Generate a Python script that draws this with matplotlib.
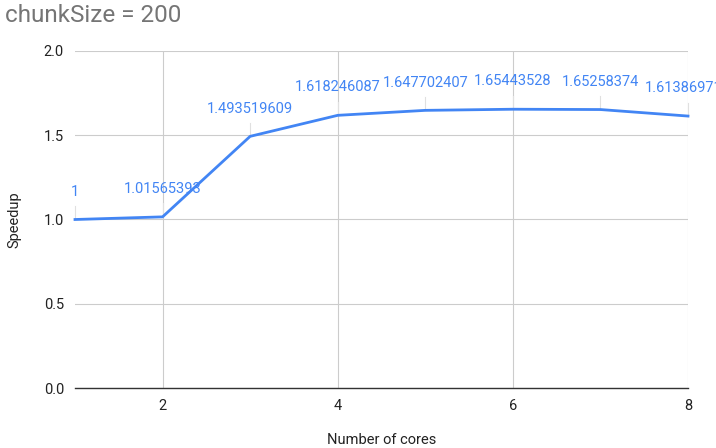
import matplotlib.pyplot as plt

plt.rcParams['font.family'] = ['Roboto', 'DejaVu Sans']

cores = [1, 2, 3, 4, 5, 6, 7, 8]
speedup = [1, 1.01565393, 1.493519609, 1.618246087, 1.647702407,
           1.65443528, 1.65258374, 1.613869712]
yticks = [0.0, 0.5, 1.0, 1.5, 2.0]
xticks = [2, 4, 6, 8]

BLUE = '#4285f4'

fig = plt.figure(figsize=(7.16, 4.48), dpi=100)
ax = fig.add_axes([75 / 716, 60 / 448, 613 / 716, 337 / 448])

ax.plot(cores, speedup, color=BLUE, linewidth=2, zorder=3, clip_on=False)

for x, y in zip(cores, speedup):
    ax.plot([x, x], [y, y + 0.08], color='#e0e0e0', linewidth=0.8, zorder=1,
            clip_on=False)
    ax.annotate(f"{y:.10g}", (x, y), xytext=(0, 15), textcoords='offset points',
                ha='center', va='bottom', color=BLUE, fontsize=10.5,
                annotation_clip=False)

ax.set_xlim(1, 8)
ax.set_ylim(0, 2)
ax.set_xticks(xticks)
ax.set_yticks(yticks)
ax.set_yticklabels([f"{t:.1f}" for t in yticks])
ax.grid(True, color='#cccccc', linewidth=0.8)
ax.set_axisbelow(True)
for s in ['top', 'right', 'left']:
    ax.spines[s].set_visible(False)
ax.spines['bottom'].set_color('#333333')
ax.spines['bottom'].set_linewidth(1)
ax.tick_params(length=0, labelsize=10.5, colors='#222222', pad=8)

ax.set_xlabel('Number of cores', fontsize=10.5, color='#222222', labelpad=14)
ax.set_ylabel('Speedup', fontsize=10.5, color='#222222', labelpad=16)

fig.text(5 / 716, 1 - 16 / 448, 'chunkSize = 200', fontsize=17.5,
         color='#757575', va='center', ha='left')

fig.savefig('out.png', dpi=100)
